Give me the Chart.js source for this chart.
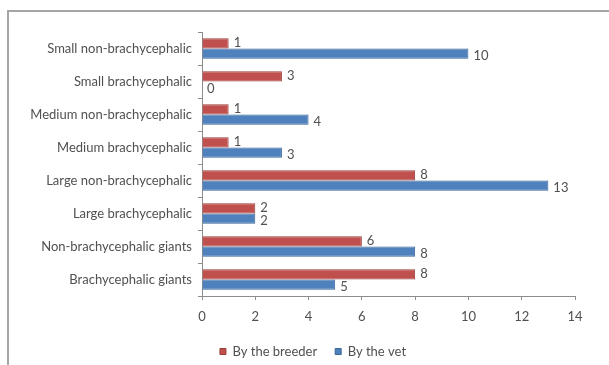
<!DOCTYPE html>
<html>
<head>
<meta charset="utf-8">
<script src="https://cdn.jsdelivr.net/npm/chart.js@4.4.1/dist/chart.umd.min.js"></script>
<style>
  html, body { margin: 0; padding: 0; background: #ffffff; }
  body { width: 609px; height: 365px; overflow: hidden; position: relative; }
  #frame {
    position: absolute; left: 7px; top: 10px; width: 610px; height: 365px;
    border-top: 2px solid #a6a6a6; border-left: 2px solid #a6a6a6;
    box-sizing: border-box;
  }
  #wrap { position: absolute; left: 9px; top: 12px; width: 600px; height: 356px; }
</style>
</head>
<body>
<div id="frame"></div>
<div id="wrap"><canvas id="c"></canvas></div>
<script>
// Dog groups, listed from top to bottom of the chart
const categories = [
  'Small non-brachycephalic',
  'Small brachycephalic',
  'Medium non-brachycephalic',
  'Medium brachycephalic',
  'Large non-brachycephalic',
  'Large brachycephalic',
  'Non-brachycephalic giants',
  'Brachycephalic giants'
];
const byBreeder = [1, 3, 1, 1, 8, 2, 6, 8];
const byVet = [10, 0, 4, 3, 13, 2, 8, 5];
const seriesNames = ['By the breeder', 'By the vet'];
const xTicks = [0, 2, 4, 6, 8, 10, 12, 14];

const FONT = 'Lato, "Liberation Sans", sans-serif';
const TEXT = '#505050';

// Writes each bar's value just past its end
const valueLabels = {
  id: 'valueLabels',
  afterDatasetsDraw(chart) {
    const ctx = chart.ctx;
    ctx.save();
    ctx.font = '13px ' + FONT;
    ctx.fillStyle = TEXT;
    ctx.textAlign = 'left';
    ctx.textBaseline = 'middle';
    chart.data.datasets.forEach((ds, di) => {
      const meta = chart.getDatasetMeta(di);
      meta.data.forEach((bar, i) => {
        const dy = di === 0 ? -1 : 2;
        ctx.fillText(String(ds.data[i]), bar.x + 5, bar.y + dy);
      });
    });
    ctx.restore();
  }
};

// Centres the legend on the whole canvas width rather than the padded box
const legendSpan = {
  id: 'legendSpan',
  afterLayout(chart) {
    const lg = chart.legend;
    if (!lg) return;
    lg.left += 8;
    lg.right += 34;
  }
};

new Chart(document.getElementById('c'), {
  type: 'bar',
  data: {
    labels: categories,
    datasets: [
      {
        label: seriesNames[0],
        data: byBreeder,
        backgroundColor: '#c0504d',
        borderColor: '#9b3b38',
        borderWidth: 1
      },
      {
        label: seriesNames[1],
        data: byVet,
        backgroundColor: '#4f81bd',
        borderColor: '#3a6699',
        borderWidth: 1
      }
    ]
  },
  options: {
    indexAxis: 'y',
    responsive: true,
    maintainAspectRatio: false,
    animation: false,
    categoryPercentage: 0.62,
    barPercentage: 1.0,
    layout: { padding: { top: 20, right: 34, bottom: 0, left: 0 } },
    plugins: {
      legend: {
        position: 'bottom',
        labels: {
          boxWidth: 6, boxHeight: 6, padding: 18,
          color: TEXT,
          font: { family: FONT, size: 13 }
        }
      },
      tooltip: { enabled: false }
    },
    scales: {
      x: {
        min: 0, max: 14,
        afterBuildTicks(scale) { scale.ticks = xTicks.map(v => ({ value: v })); },
        grid: { drawOnChartArea: false, drawTicks: true, tickLength: 4, color: '#8c8c8c' },
        border: { color: '#8c8c8c', width: 1 },
        ticks: { color: TEXT, padding: 9, font: { family: FONT, size: 13 } },
        afterFit(scale) { scale.height = 31; }
      },
      y: {
        grid: { drawOnChartArea: false, drawTicks: true, tickLength: 4, color: '#8c8c8c', offset: true },
        border: { color: '#8c8c8c', width: 1 },
        ticks: { color: TEXT, padding: 6, font: { family: FONT, size: 13 } },
        afterFit(scale) { scale.width = 193; }
      }
    }
  },
  plugins: [valueLabels, legendSpan]
});
</script>
</body>
</html>
